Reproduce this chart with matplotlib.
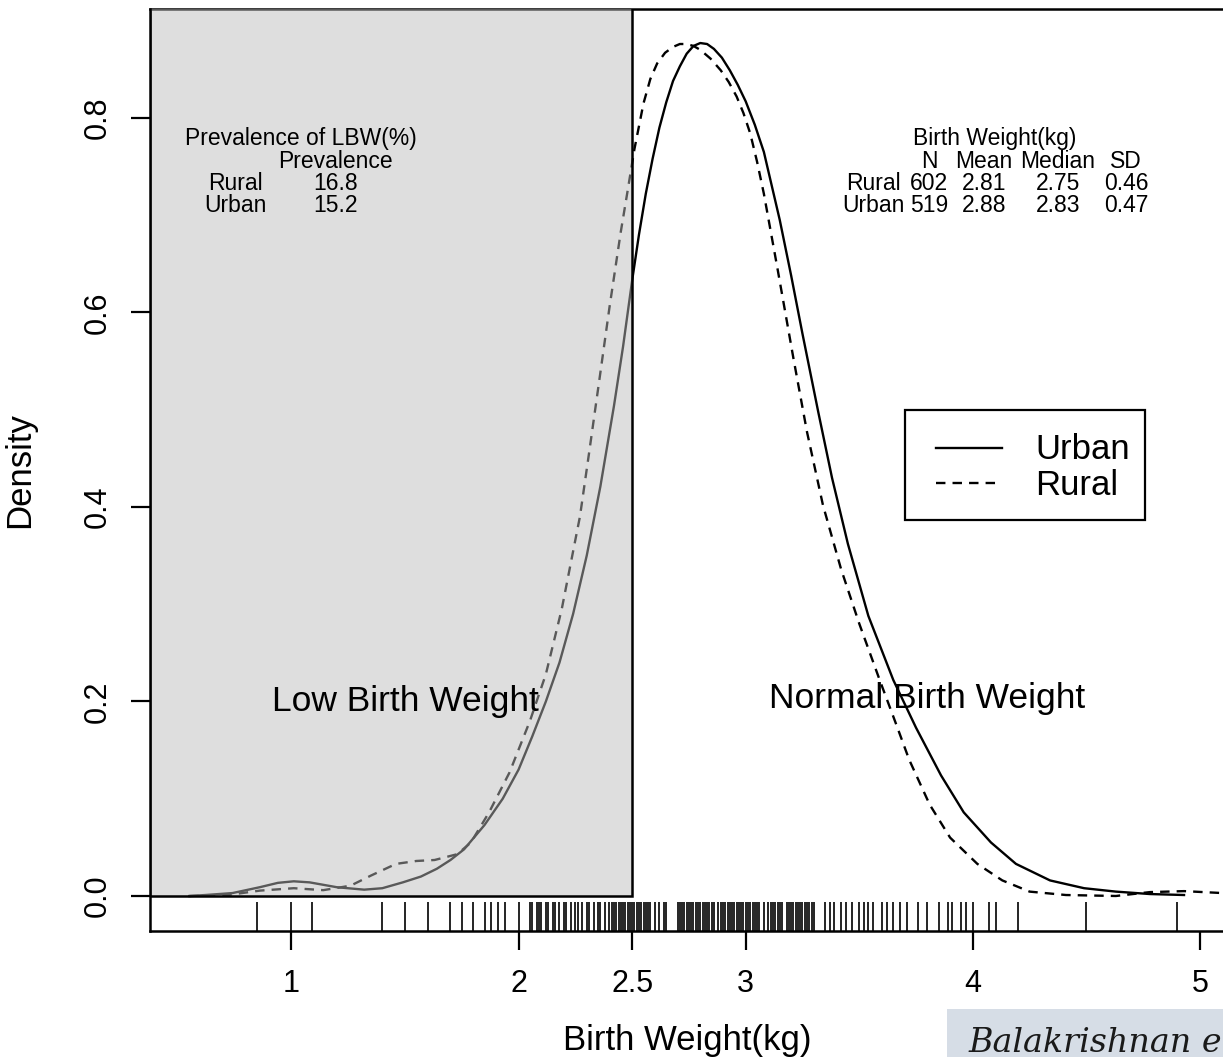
import matplotlib.pyplot as plt
from matplotlib.patches import Rectangle

plt.rcParams['font.family'] = ['Liberation Sans', 'DejaVu Sans']

# density curves (kg, density)
urban_x = [0.55, 0.62, 0.74, 0.86, 0.94, 1.01, 1.08, 1.20, 1.32, 1.40,
           1.49, 1.57, 1.64, 1.70, 1.76, 1.85, 1.93, 2.00, 2.06, 2.12,
           2.18, 2.24, 2.30, 2.36, 2.42, 2.46, 2.50, 2.53, 2.56, 2.59,
           2.62, 2.65, 2.68, 2.71, 2.74, 2.77, 2.80, 2.83, 2.86, 2.895,
           2.93, 2.965, 3.00, 3.04, 3.08, 3.15, 3.20, 3.25, 3.32, 3.38,
           3.45, 3.54, 3.65, 3.75, 3.86, 3.96, 4.08, 4.19, 4.34, 4.49,
           4.63, 4.78, 4.93]
urban_y = [0.000, 0.001, 0.003, 0.009, 0.0135, 0.0151, 0.014, 0.009, 0.0065, 0.008,
           0.014, 0.020, 0.028, 0.037, 0.048, 0.073, 0.100, 0.130, 0.164, 0.200,
           0.240, 0.290, 0.350, 0.421, 0.504, 0.565, 0.633, 0.680, 0.722, 0.758,
           0.790, 0.816, 0.838, 0.853, 0.866, 0.874, 0.877, 0.876, 0.871, 0.862,
           0.849, 0.834, 0.817, 0.793, 0.765, 0.695, 0.638, 0.578, 0.497, 0.430,
           0.362, 0.288, 0.222, 0.173, 0.124, 0.086, 0.055, 0.033, 0.016, 0.008,
           0.0045, 0.002, 0.001]

rural_x = [0.55, 0.72, 0.86, 1.01, 1.14, 1.26, 1.35, 1.46, 1.55, 1.63,
           1.73, 1.79, 1.87, 1.96, 2.05, 2.12, 2.19, 2.27, 2.31, 2.36,
           2.40, 2.45, 2.48, 2.51, 2.55, 2.58, 2.61, 2.645, 2.68, 2.71,
           2.74, 2.77, 2.80, 2.845, 2.89, 2.925, 2.96, 2.99, 3.02, 3.05,
           3.08, 3.14, 3.21, 3.27, 3.34, 3.42, 3.50, 3.59, 3.665, 3.72,
           3.81, 3.90, 4.02, 4.13, 4.25, 4.41, 4.63, 4.78, 4.93, 5.10,
           5.25]
rural_y = [0.000, 0.001, 0.0055, 0.008, 0.006, 0.0106, 0.021, 0.033, 0.036, 0.037,
           0.043, 0.055, 0.086, 0.127, 0.180, 0.228, 0.295, 0.390, 0.455, 0.538,
           0.605, 0.683, 0.725, 0.768, 0.815, 0.840, 0.856, 0.867, 0.873, 0.876,
           0.876, 0.874, 0.870, 0.861, 0.849, 0.837, 0.822, 0.805, 0.784, 0.755,
           0.722, 0.645, 0.553, 0.477, 0.402, 0.336, 0.280, 0.222, 0.175, 0.140,
           0.094, 0.060, 0.033, 0.016, 0.0045, 0.001, 0.000, 0.004, 0.005, 0.003,
           0.001]

# rug of observed birth weights
rug_x = [0.85, 1.0, 1.09, 1.4, 1.5, 1.6, 1.7, 1.75, 1.8, 1.85, 1.88, 1.91, 1.94, 2.0,
         2.05, 2.06, 2.08, 2.09, 2.1, 2.12, 2.13, 2.15, 2.16, 2.18, 2.2, 2.21, 2.23,
         2.25, 2.26, 2.28, 2.3, 2.31, 2.33, 2.35, 2.36, 2.38, 2.4, 2.41, 2.42, 2.43,
         2.44, 2.45, 2.46, 2.47, 2.48, 2.49, 2.5, 2.51, 2.52, 2.53, 2.54, 2.55, 2.56,
         2.57, 2.58, 2.6, 2.62, 2.64, 2.65, 2.7, 2.71, 2.72, 2.73, 2.74, 2.75, 2.76,
         2.77, 2.78, 2.79, 2.8, 2.81, 2.82, 2.83, 2.84, 2.85, 2.86, 2.88, 2.89, 2.9,
         2.91, 2.92, 2.93, 2.94, 2.95, 2.96, 2.97, 2.98, 2.99, 3.0, 3.01, 3.02, 3.03,
         3.04, 3.05, 3.06, 3.08, 3.1, 3.11, 3.12, 3.13, 3.14, 3.15, 3.16, 3.18, 3.19,
         3.2, 3.21, 3.22, 3.23, 3.24, 3.25, 3.26, 3.27, 3.28, 3.29, 3.3,
         3.35, 3.37, 3.39, 3.42, 3.44, 3.47, 3.5, 3.52, 3.54, 3.56, 3.6, 3.62, 3.65,
         3.68, 3.71, 3.76, 3.8, 3.85, 3.89, 3.91, 3.95, 3.97, 4.0, 4.07, 4.1, 4.2,
         4.5, 4.9]

lbw_groups = ['Rural', 'Urban']
lbw_prev = ['16.8', '15.2']

bw_groups = ['Rural', 'Urban']
bw_n = ['602', '519']
bw_mean = ['2.81', '2.88']
bw_median = ['2.75', '2.83']
bw_sd = ['0.46', '0.47']

xticks = [1, 2, 2.5, 3, 4, 5]
xticklabels = ['1', '2', '2.5', '3', '4', '5']
yticks = [0.0, 0.2, 0.4, 0.6, 0.8]
yticklabels = ['0.0', '0.2', '0.4', '0.6', '0.8']

fig = plt.figure(figsize=(12.23, 10.57), dpi=100)
ax = fig.add_axes([150 / 1223, 126 / 1057, 1074 / 1223, 922 / 1057])
x0, x1 = 0.377, 5.106
y0, y1 = -0.036, 0.912
ax.set_xlim(x0, x1)
ax.set_ylim(y0, y1)

dash = (0, (4, 3))
ax.plot(urban_x, urban_y, color='black', lw=1.7, zorder=2)
ax.plot(rural_x, rural_y, color='black', lw=1.7, ls=dash, zorder=2)

# shaded low birth weight zone (semi-transparent, greys the curves under it)
ax.add_patch(Rectangle((x0, 0), 2.5 - x0, y1, facecolor='#bbbbbb',
                       alpha=0.48, edgecolor='none', zorder=3))
ax.add_patch(Rectangle((x0, 0), 2.5 - x0, y1 + 0.01, fill=False,
                       edgecolor='black', lw=1.8, zorder=4))

# rug
ax.vlines(rug_x, 0, 0.031, transform=ax.get_xaxis_transform(),
          color='black', lw=1.2, zorder=2)

ax.set_xticks(xticks)
ax.set_xticklabels(xticklabels)
ax.set_yticks(yticks)
ax.set_yticklabels(yticklabels)
ax.tick_params(length=14, width=1.6, labelsize=22, pad=13, color='black')
ax.tick_params(axis='y', labelrotation=90)
for lab in ax.get_yticklabels():
    lab.set_va('center')
for s in ['left', 'top', 'bottom']:
    ax.spines[s].set_linewidth(1.8)
ax.spines['right'].set_visible(False)

ax.set_xlabel('Birth Weight(kg)', fontsize=25)
ax.xaxis.set_label_coords(0.5, -0.101)
ax.set_ylabel('Density', fontsize=25)
ax.yaxis.set_label_coords(-0.106, 0.5)

# region labels
ax.text(1.503, 0.19, 'Low Birth Weight', fontsize=25.5, ha='center',
        va='baseline', zorder=5)
ax.text(3.797, 0.193, 'Normal Birth Weight', fontsize=25.5, ha='center',
        va='baseline', zorder=5)

# prevalence table
tfs = 16.5
ax.text(1.041, 0.772, 'Prevalence of LBW(%)', fontsize=tfs, ha='center', va='baseline', zorder=5)
ax.text(1.192, 0.749, 'Prevalence', fontsize=tfs, ha='center', va='baseline', zorder=5)
for i, g in enumerate(lbw_groups):
    yy = 0.726 - 0.023 * i
    ax.text(0.755, yy, g, fontsize=tfs, ha='center', va='baseline', zorder=5)
    ax.text(1.192, yy, lbw_prev[i], fontsize=tfs, ha='center', va='baseline', zorder=5)

# birth weight summary table
ax.text(4.096, 0.772, 'Birth Weight(kg)', fontsize=tfs, ha='center', va='baseline')
cols = [3.807, 4.049, 4.375, 4.675]
for cx, h in zip(cols, ['N', 'Mean', 'Median', 'SD']):
    ax.text(cx, 0.749, h, fontsize=tfs, ha='center', va='baseline')
for i, g in enumerate(bw_groups):
    yy = 0.726 - 0.0225 * i
    ax.text(3.561, yy, g, fontsize=tfs, ha='center', va='baseline')
    for cx, v in zip(cols, [bw_n[i], bw_mean[i], bw_median[i], bw_sd[i]]):
        ax.text(cx, yy, v, fontsize=tfs, ha='center', va='baseline')

# legend box
ax.add_patch(Rectangle((3.701, 0.3866), 1.057, 0.1131, fill=False,
                       edgecolor='black', lw=1.6, zorder=5))
ax.plot([3.838, 4.128], [0.461, 0.461], color='black', lw=1.7, zorder=5)
ax.plot([3.838, 4.128], [0.4247, 0.4247], color='black', lw=1.7, ls=dash, zorder=5)
ax.text(4.274, 0.449, 'Urban', fontsize=25, va='baseline', zorder=5)
ax.text(4.274, 0.4127, 'Rural', fontsize=25, va='baseline', zorder=5)

# citation strip at the bottom right (cut by the image edge, as in the source)
fig.add_artist(Rectangle((947 / 1223, 0), 1 - 947 / 1223, 48 / 1057,
                         transform=fig.transFigure, facecolor='#d6dde6',
                         edgecolor='none'))
fig.text(968 / 1223, 5 / 1057, 'Balakrishnan et al.', fontsize=24,
         family='DejaVu Serif', style='italic', va='baseline', color='#1a1a1a')

fig.savefig('out.png', dpi=100)
